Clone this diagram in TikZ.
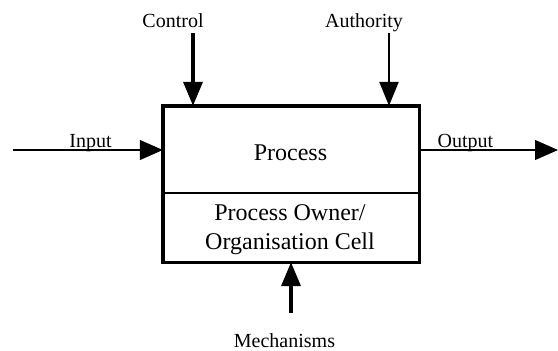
\documentclass[tikz,border=0pt]{standalone}
\usepackage{fontspec}
\setmainfont{Liberation Serif}
\usetikzlibrary{arrows.meta}
\begin{document}
\begin{tikzpicture}[x=1pt,y=-1pt,
  cell/.style={minimum width=256pt, inner sep=0pt},
  big/.style={anchor=base, inner sep=0pt, font=\fontsize{24}{29}\selectfont},
  lbl/.style={anchor=base, inner sep=0pt, font=\fontsize{20}{24}\selectfont},
  heavy/.style={line width=3.6pt, -{Triangle[length=24pt,width=19pt]}},
  medium/.style={line width=2.6pt, -{Triangle[length=24pt,width=19pt]}},
  light/.style={line width=1.1pt, -{Triangle[length=23pt,width=20pt]}}]
  \useasboundingbox (0,0) rectangle (558,351);

  % the two cells of the activity box
  \node[cell, minimum height=87pt] (proc) at (291,149.5) {};
  \node[cell, minimum height=69pt] (owner) at (291,227.5) {};
  \draw[line width=3.4pt] (proc.north west) rectangle (owner.south east);
  \draw[line width=2pt] (owner.north west) -- (owner.north east);

  % texts inside the cells
  \node[big] (tproc) at (290.5,160) {Process};
  \node[big] (towner1) at (290,220) {Process Owner/};
  \node[big] (towner2) at (290,249) {Organisation Cell};

  % labels
  \node[lbl] (lcontrol) at (173,27) {Control};
  \node[lbl] (lauth) at (364,27) {Authority};
  \node[lbl] (linput) at (90.5,147) {Input};
  \node[lbl] (loutput) at (465.5,147) {Output};
  \node[lbl] (lmech) at (284.5,347) {Mechanisms};

  % free ends of the arrows
  \coordinate (cin) at (13,150);
  \coordinate (cout) at (558,150);
  \coordinate (cctl) at (193,33);
  \coordinate (cauth) at (389,33);
  \coordinate (cmech) at (291,313);

  % arrows
  \draw[light] (cin) -- (cin -| proc.west);
  \draw[light] (cin -| proc.east) -- (cout);
  \draw[heavy] (cctl) -- (cctl |- proc.north);
  \draw[medium] (cauth) -- (cauth |- proc.north);
  \draw[heavy] (cmech) -- (cmech |- owner.south);
\end{tikzpicture}
\end{document}
